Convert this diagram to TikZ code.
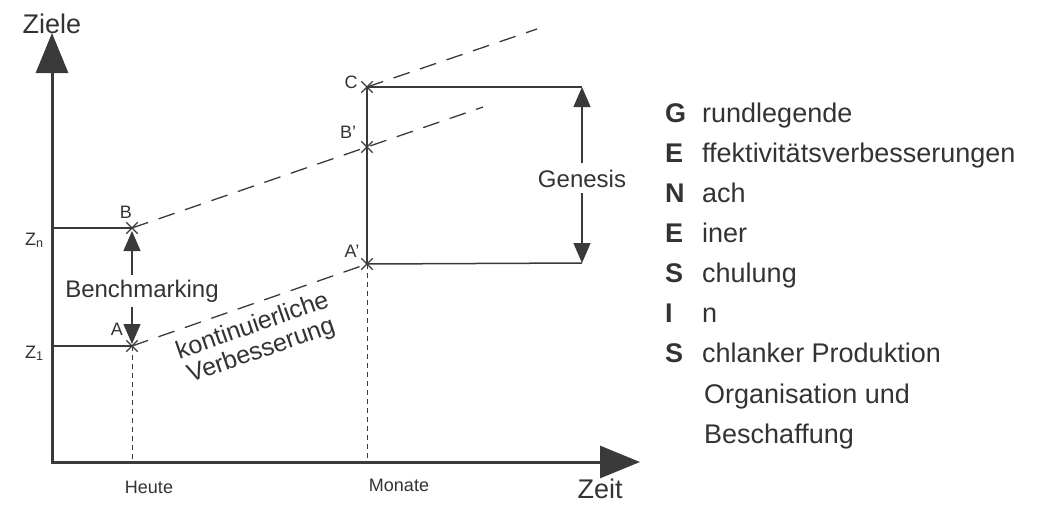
\documentclass[tikz,border=0pt]{standalone}
\usepackage{fontspec}
\setmainfont{Liberation Sans}
\usetikzlibrary{arrows.meta,shapes.misc}
\definecolor{ink}{HTML}{333333}
\definecolor{linec}{HTML}{3A3A3A}
\begin{document}
\begin{tikzpicture}[x=1pt,y=-1pt,
  every node/.style={text=ink},
  lab/.style={font=\fontsize{18}{20}\selectfont, inner sep=0pt, anchor=base},
  big/.style={font=\fontsize{27}{30}\selectfont, inner sep=0pt, anchor=base},
  mid/.style={font=\fontsize{24}{26}\selectfont},
  axisl/.style={line width=3pt, draw=linec, {Triangle[length=40pt,width=32pt]}-{Triangle[length=40pt,width=32pt]}},
  xm/.style={cross out, draw=linec, line width=1.3pt, minimum size=10pt, inner sep=0pt},
  thinl/.style={line width=1.3pt, draw=linec},
  boxl/.style={line width=1.5pt, draw=linec},
  vertl/.style={line width=2.2pt, draw=linec},
  dashl/.style={line width=1.3pt, draw=linec, dash pattern=on 17pt off 11pt},
  dotl/.style={line width=1pt, draw=linec, dash pattern=on 5pt off 4pt},
  smarrow/.style={line width=1.3pt, draw=linec, -{Triangle[length=20pt,width=17pt]}},
  legL/.style={font=\fontsize{27}{30}\selectfont\bfseries, anchor=base west, inner sep=0pt},
  legT/.style={font=\fontsize{27}{30}\selectfont, anchor=base west, inner sep=0pt}
]
\useasboundingbox (0,0) rectangle (1038,504);

% axes
\coordinate (O) at (52,462);
\coordinate (Ytip) at (52,33);
\coordinate (Xtip) at (640,462);
\draw[axisl] (Ytip) -- (O) -- (Xtip);
\node[big] (ziele) at (52,33) {Ziele};
\node[big] (zeit) at (600,498) {Zeit};

% points
\node[xm] (B) at (132,228) {};
\node[xm] (A) at (132,346) {};
\node[xm] (C) at (367,87) {};
\node[xm] (Bp) at (367,147) {};
\node[xm] (Ap) at (367,264) {};
\coordinate (Zn) at (52,228);
\coordinate (Z1) at (52,346);
\coordinate (Bpend) at (483,107);
\coordinate (Cend) at (537,29);
\coordinate (Gt) at (582,87);
\coordinate (Gb) at (582,263);
\coordinate (bt) at (132,231);
\coordinate (bb) at (132,344);

% lines
\draw[thinl] (Zn) -- (B.center);
\draw[thinl] (Z1) -- (A.center);
\draw[dashl] (B.center) -- (Bp.center) -- (Bpend);
\draw[dashl] (A.center) -- (Ap.center);
\draw[dashl] (C.center) -- (Cend);
\draw[dotl] (A.center) -- (A |- O);
\draw[dotl] (Ap.center) -- (Ap |- O);
\draw[vertl] (C.center) -- (Ap.center);
\draw[boxl] (C.center) -- (Gt);
\draw[boxl] (Ap.center) -- (Gb);

% Genesis arrow
\node[mid, anchor=base, inner sep=6pt] (gen) at (582,187) {Genesis};
\draw[smarrow] (gen.north) -- (Gt);
\draw[smarrow] (gen.south) -- (Gb);

% Benchmarking arrow
\node[mid, anchor=base, inner sep=4.5pt] (bench) at (142,297) {Benchmarking};
\draw[smarrow] (bench.north -| B) -- (bt);
\draw[smarrow] (bench.south -| B) -- (bb);

% labels
\node[lab] (lB) at (126,218) {B};
\node[lab] (lA) at (117,335) {A};
\node[lab] (lC) at (351,88) {C};
\node[lab] (lBp) at (348,138) {B'};
\node[lab] (lAp) at (352,257) {A'};
\node[lab, anchor=base west] (lZn) at (25,245) {Z\textsubscript{n}};
\node[lab, anchor=base west] (lZ1) at (25,358) {Z\textsubscript{1}};
\node[lab] (heute) at (149,493) {Heute};
\node[lab] (monate) at (399,491) {Monate};

\node[font=\fontsize{25}{26}\selectfont, rotate=19.2, align=center, inner sep=0pt] (kv) at (257,339) {kontinuierliche\\Verbesserung};

% legend
\node[legL] (g1) at (665,122) {G};
\node[legT] (t1) at (702,122) {rundlegende};
\node[legL] (g2) at (665,162) {E};
\node[legT] (t2) at (702,162) {ffektivitätsverbesserungen};
\node[legL] (g3) at (665,202) {N};
\node[legT] (t3) at (702,202) {ach};
\node[legL] (g4) at (665,242) {E};
\node[legT] (t4) at (702,242) {iner};
\node[legL] (g5) at (665,282) {S};
\node[legT] (t5) at (702,282) {chulung};
\node[legL] (g6) at (665,322) {I};
\node[legT] (t6) at (702,322) {n};
\node[legL] (g7) at (665,362) {S};
\node[legT] (t7) at (702,362) {chlanker Produktion};
\node[legT] (t8) at (704,403) {Organisation und};
\node[legT] (t9) at (704,443) {Beschaffung};
\end{tikzpicture}
\end{document}
